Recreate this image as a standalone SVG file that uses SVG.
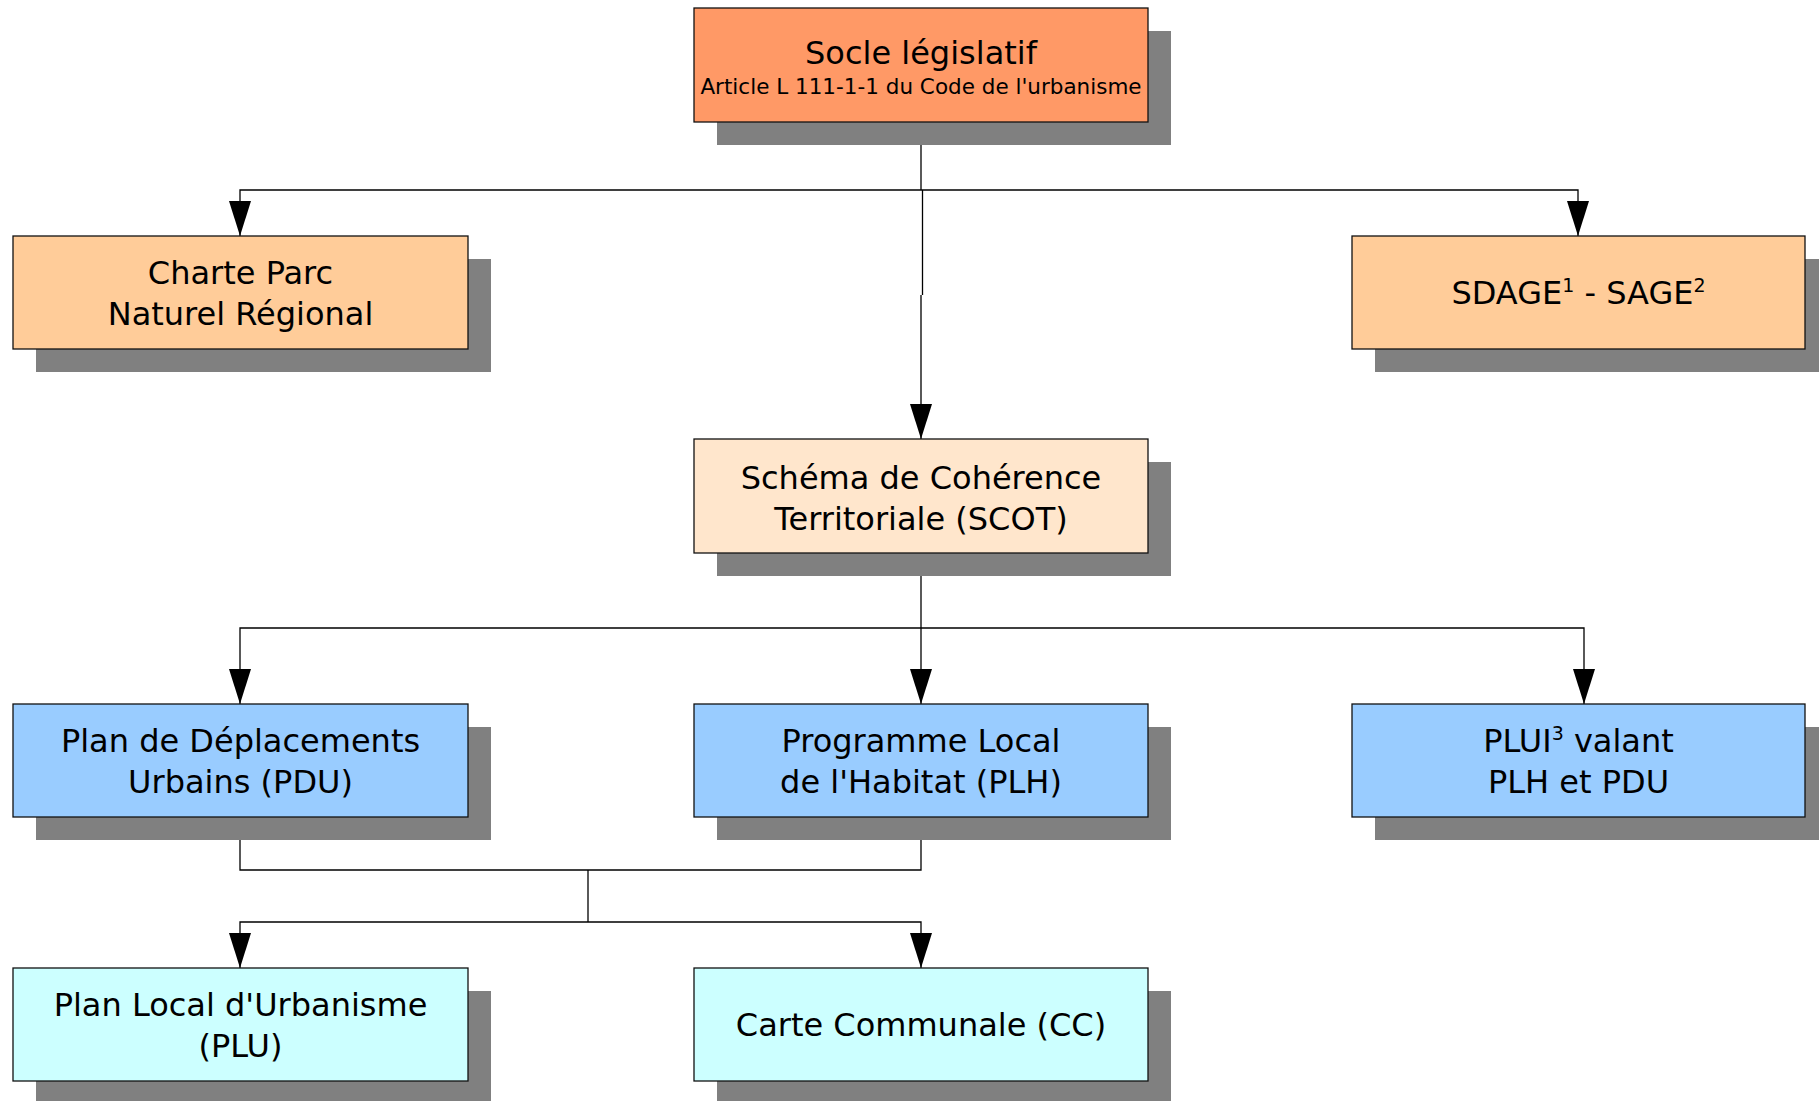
<svg xmlns="http://www.w3.org/2000/svg" width="1819" height="1101" viewBox="0 0 1819 1101">
<defs>
<style>
.sh{fill:#808080}
.bx{stroke:#111;stroke-width:1.3}
.t{font-family:"DejaVu Sans","Liberation Sans",sans-serif;font-size:32px;fill:#000;text-anchor:middle}
.s{font-size:21.5px}
.sup{font-size:19px}
.c{fill:none;stroke:#000;stroke-width:1.3}
</style>
<marker id="ah" viewBox="0 0 35 22" refX="35" refY="11" markerWidth="35" markerHeight="22" markerUnits="userSpaceOnUse" orient="auto">
<path d="M0,0 L35,11 L0,22 z" fill="#000"/>
</marker>
</defs>
<rect width="1819" height="1101" fill="#fff"/>

<g id="connectors">
<path class="c" d="M921,122 V190"/>
<path class="c" d="M921,190 H240 V236" marker-end="url(#ah)"/>
<path class="c" d="M921,190 H1578 V236" marker-end="url(#ah)"/>
<path class="c" d="M922.5,190 V295 M921,295 V439" marker-end="url(#ah)"/>
<path class="c" d="M921,553 V628"/>
<path class="c" d="M921,628 H240 V704" marker-end="url(#ah)"/>
<path class="c" d="M921,628 V704" marker-end="url(#ah)"/>
<path class="c" d="M921,628 H1584 V704" marker-end="url(#ah)"/>
<path class="c" d="M240,817 V870 H921 V817"/>
<path class="c" d="M588,870 V922"/>
<path class="c" d="M588,922 H240 V968" marker-end="url(#ah)"/>
<path class="c" d="M588,922 H921 V968" marker-end="url(#ah)"/>
</g>

<g id="socle">
<rect class="sh" x="717" y="31" width="454" height="114"/>
<rect class="bx" x="694" y="8" width="454" height="114" fill="#FF9966"/>
<text class="t" x="921" y="64">Socle législatif</text>
<text class="t s" x="921" y="94">Article L 111-1-1 du Code de l'urbanisme</text>
</g>

<g id="charte">
<rect class="sh" x="36" y="259" width="455" height="113"/>
<rect class="bx" x="13" y="236" width="455" height="113" fill="#FFCC99"/>
<text class="t" x="240.5" y="284">Charte Parc</text>
<text class="t" x="240.5" y="325">Naturel Régional</text>
</g>

<g id="sdage">
<rect class="sh" x="1375" y="259" width="453" height="113"/>
<rect class="bx" x="1352" y="236" width="453" height="113" fill="#FFCC99"/>
<text class="t" x="1578.5" y="304">SDAGE<tspan class="sup" dy="-12">1</tspan><tspan dy="12"> - SAGE</tspan><tspan class="sup" dy="-12">2</tspan></text>
</g>

<g id="scot">
<rect class="sh" x="717" y="462" width="454" height="114"/>
<rect class="bx" x="694" y="439" width="454" height="114" fill="#FFE6CC"/>
<text class="t" x="921" y="489">Schéma de Cohérence</text>
<text class="t" x="921" y="530">Territoriale (SCOT)</text>
</g>

<g id="pdu">
<rect class="sh" x="36" y="727" width="455" height="113"/>
<rect class="bx" x="13" y="704" width="455" height="113" fill="#99CCFF"/>
<text class="t" x="240.5" y="752">Plan de Déplacements</text>
<text class="t" x="240.5" y="793">Urbains (PDU)</text>
</g>

<g id="plh">
<rect class="sh" x="717" y="727" width="454" height="113"/>
<rect class="bx" x="694" y="704" width="454" height="113" fill="#99CCFF"/>
<text class="t" x="921" y="752">Programme Local</text>
<text class="t" x="921" y="793">de l'Habitat (PLH)</text>
</g>

<g id="plui">
<rect class="sh" x="1375" y="727" width="453" height="113"/>
<rect class="bx" x="1352" y="704" width="453" height="113" fill="#99CCFF"/>
<text class="t" x="1578.5" y="752">PLUI<tspan class="sup" dy="-12">3</tspan><tspan dy="12"> valant</tspan></text>
<text class="t" x="1578.5" y="793">PLH et PDU</text>
</g>

<g id="plu">
<rect class="sh" x="36" y="991" width="455" height="113"/>
<rect class="bx" x="13" y="968" width="455" height="113" fill="#CCFFFF"/>
<text class="t" x="240.5" y="1016">Plan Local d'Urbanisme</text>
<text class="t" x="240.5" y="1057">(PLU)</text>
</g>

<g id="cc">
<rect class="sh" x="717" y="991" width="454" height="113"/>
<rect class="bx" x="694" y="968" width="454" height="113" fill="#CCFFFF"/>
<text class="t" x="921" y="1036">Carte Communale (CC)</text>
</g>
</svg>
